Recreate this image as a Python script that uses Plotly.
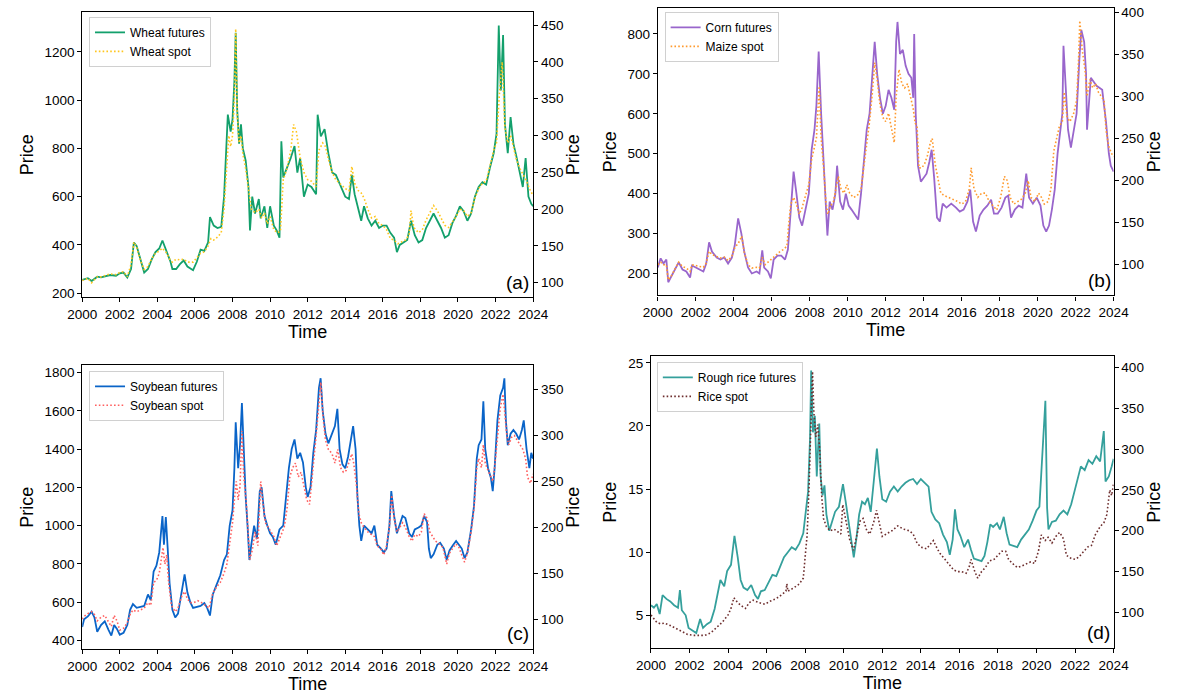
import plotly.graph_objects as go

# ---------------- data (decimal year, value) ----------------
WHEAT_FUT = [(2000.0,255),(2000.3,262),(2000.5,250),(2000.8,268),(2001.0,265),(2001.3,270),(2001.5,275),(2001.8,272),(2002.0,282),(2002.2,285),(2002.4,265),(2002.6,300),(2002.75,410),(2002.9,395),(2003.1,340),(2003.3,285),(2003.5,300),(2003.7,340),(2003.9,370),(2004.1,385),(2004.27,418),(2004.5,370),(2004.7,330),(2004.8,300),(2005.0,300),(2005.2,320),(2005.4,335),(2005.6,310),(2005.9,295),(2006.1,330),(2006.3,380),(2006.5,375),(2006.7,410),(2006.8,515),(2007.0,480),(2007.2,470),(2007.4,475),(2007.55,600),(2007.7,820),(2007.75,940),(2007.9,870),(2008.0,920),(2008.1,1080),(2008.17,1280),(2008.25,960),(2008.35,820),(2008.45,900),(2008.55,800),(2008.7,750),(2008.85,640),(2008.93,460),(2009.05,600),(2009.2,530),(2009.4,590),(2009.5,510),(2009.7,560),(2009.85,470),(2010.0,560),(2010.2,480),(2010.35,460),(2010.5,430),(2010.6,830),(2010.7,680),(2010.9,720),(2011.1,760),(2011.3,810),(2011.45,700),(2011.6,760),(2011.8,600),(2012.0,650),(2012.2,640),(2012.45,610),(2012.53,940),(2012.7,850),(2012.9,880),(2013.1,780),(2013.3,700),(2013.5,690),(2013.8,640),(2014.0,600),(2014.2,590),(2014.35,690),(2014.5,610),(2014.7,545),(2014.85,500),(2015.0,560),(2015.2,510),(2015.4,480),(2015.6,500),(2015.8,470),(2016.0,480),(2016.2,480),(2016.4,450),(2016.6,430),(2016.75,370),(2016.9,400),(2017.1,410),(2017.3,420),(2017.5,500),(2017.7,440),(2017.9,410),(2018.1,420),(2018.3,470),(2018.5,500),(2018.7,530),(2018.9,500),(2019.1,470),(2019.3,430),(2019.5,440),(2019.7,490),(2019.9,520),(2020.1,560),(2020.3,540),(2020.5,500),(2020.7,530),(2020.9,600),(2021.1,640),(2021.3,660),(2021.5,650),(2021.7,720),(2021.9,780),(2022.05,860),(2022.17,1310),(2022.28,1040),(2022.4,1270),(2022.5,900),(2022.65,780),(2022.8,930),(2022.95,820),(2023.1,770),(2023.3,700),(2023.45,640),(2023.6,760),(2023.75,600),(2023.9,570),(2024.0,560)]
WHEAT_SPOT = [(2000.0,103),(2000.3,106),(2000.5,100),(2000.8,108),(2001.0,108),(2001.3,111),(2001.5,112),(2001.8,111),(2002.0,114),(2002.2,115),(2002.4,108),(2002.6,125),(2002.75,155),(2002.9,148),(2003.1,130),(2003.3,118),(2003.5,122),(2003.7,133),(2003.9,140),(2004.1,143),(2004.27,147),(2004.5,140),(2004.7,130),(2004.8,128),(2005.0,132),(2005.2,131),(2005.4,132),(2005.6,128),(2005.9,128),(2006.1,134),(2006.3,140),(2006.5,142),(2006.7,150),(2006.85,160),(2007.0,158),(2007.2,162),(2007.4,168),(2007.55,200),(2007.7,265),(2007.8,300),(2007.9,285),(2008.0,300),(2008.1,350),(2008.17,445),(2008.25,330),(2008.35,290),(2008.45,300),(2008.55,275),(2008.7,255),(2008.85,225),(2009.0,200),(2009.2,195),(2009.4,200),(2009.55,188),(2009.7,195),(2009.85,180),(2010.0,190),(2010.2,172),(2010.4,168),(2010.55,170),(2010.7,240),(2010.9,255),(2011.1,280),(2011.25,315),(2011.4,305),(2011.6,270),(2011.8,250),(2012.0,240),(2012.2,238),(2012.45,230),(2012.6,280),(2012.8,290),(2012.95,285),(2013.1,268),(2013.3,250),(2013.5,240),(2013.8,232),(2014.0,228),(2014.2,225),(2014.35,258),(2014.5,235),(2014.7,225),(2014.85,222),(2015.0,215),(2015.2,200),(2015.4,188),(2015.6,190),(2015.8,180),(2016.0,178),(2016.2,172),(2016.4,160),(2016.6,158),(2016.8,153),(2017.0,155),(2017.2,158),(2017.4,165),(2017.5,198),(2017.65,175),(2017.9,168),(2018.1,172),(2018.3,185),(2018.5,195),(2018.7,205),(2018.9,198),(2019.1,188),(2019.3,178),(2019.5,175),(2019.7,183),(2019.9,190),(2020.1,200),(2020.3,198),(2020.5,190),(2020.7,195),(2020.9,215),(2021.1,228),(2021.3,235),(2021.5,238),(2021.7,258),(2021.9,280),(2022.05,290),(2022.2,355),(2022.35,400),(2022.5,310),(2022.65,290),(2022.8,300),(2022.95,285),(2023.1,268),(2023.3,255),(2023.5,245),(2023.65,238),(2023.8,228),(2024.0,218)]

CORN_FUT = [(2000.0,215),(2000.15,238),(2000.3,225),(2000.45,235),(2000.55,178),(2000.75,195),(2000.9,210),(2001.1,228),(2001.3,210),(2001.5,205),(2001.7,190),(2001.8,220),(2002.0,215),(2002.2,210),(2002.4,205),(2002.55,225),(2002.7,278),(2002.85,255),(2003.1,240),(2003.3,235),(2003.5,240),(2003.7,225),(2003.9,240),(2004.05,270),(2004.23,338),(2004.4,300),(2004.55,255),(2004.75,215),(2004.95,200),(2005.2,205),(2005.35,200),(2005.5,258),(2005.6,215),(2005.8,205),(2005.95,188),(2006.1,235),(2006.3,245),(2006.5,245),(2006.7,235),(2006.85,260),(2006.95,330),(2007.05,390),(2007.15,455),(2007.3,400),(2007.45,340),(2007.6,320),(2007.8,370),(2007.95,400),(2008.1,510),(2008.25,560),(2008.35,620),(2008.47,756),(2008.6,600),(2008.75,450),(2008.85,380),(2008.93,295),(2009.05,380),(2009.2,360),(2009.35,400),(2009.44,470),(2009.6,380),(2009.75,360),(2009.9,400),(2010.05,370),(2010.2,360),(2010.4,345),(2010.55,335),(2010.7,400),(2010.85,480),(2011.0,560),(2011.15,600),(2011.3,690),(2011.42,780),(2011.55,700),(2011.7,640),(2011.85,600),(2012.0,620),(2012.15,660),(2012.3,640),(2012.45,610),(2012.55,780),(2012.62,830),(2012.75,750),(2012.9,760),(2013.05,720),(2013.2,700),(2013.35,690),(2013.45,640),(2013.5,800),(2013.58,600),(2013.7,470),(2013.85,430),(2014.0,440),(2014.15,450),(2014.3,480),(2014.42,510),(2014.55,440),(2014.7,340),(2014.85,330),(2015.0,375),(2015.2,365),(2015.45,375),(2015.7,365),(2015.9,355),(2016.1,360),(2016.3,380),(2016.45,410),(2016.6,330),(2016.75,305),(2016.95,345),(2017.15,360),(2017.35,370),(2017.55,385),(2017.7,350),(2017.9,350),(2018.1,365),(2018.3,390),(2018.45,395),(2018.6,340),(2018.8,360),(2019.0,370),(2019.2,365),(2019.4,450),(2019.55,390),(2019.75,375),(2019.95,390),(2020.15,370),(2020.3,320),(2020.45,305),(2020.6,320),(2020.75,360),(2020.9,410),(2021.05,500),(2021.2,555),(2021.3,600),(2021.36,770),(2021.45,690),(2021.6,560),(2021.75,515),(2021.9,560),(2022.05,600),(2022.2,740),(2022.3,810),(2022.45,780),(2022.55,700),(2022.6,560),(2022.7,640),(2022.8,690),(2022.95,680),(2023.1,670),(2023.25,665),(2023.4,660),(2023.5,620),(2023.6,580),(2023.75,500),(2023.85,470),(2024.0,455)]
MAIZE_SPOT = [(2000.0,100),(2000.15,103),(2000.3,100),(2000.45,100),(2000.55,82),(2000.75,88),(2000.9,95),(2001.1,103),(2001.3,98),(2001.5,96),(2001.7,92),(2001.8,100),(2002.0,99),(2002.2,98),(2002.4,97),(2002.55,102),(2002.7,116),(2002.85,112),(2003.1,110),(2003.3,108),(2003.5,109),(2003.7,105),(2003.9,110),(2004.05,120),(2004.25,126),(2004.42,134),(2004.55,115),(2004.75,100),(2004.95,96),(2005.2,97),(2005.35,96),(2005.5,109),(2005.65,100),(2005.85,104),(2006.0,108),(2006.2,112),(2006.4,115),(2006.6,118),(2006.8,122),(2006.9,150),(2007.0,172),(2007.15,180),(2007.3,172),(2007.45,160),(2007.6,168),(2007.75,180),(2007.95,195),(2008.1,225),(2008.25,240),(2008.35,250),(2008.5,312),(2008.6,250),(2008.75,210),(2008.85,175),(2008.95,160),(2009.1,170),(2009.25,175),(2009.4,195),(2009.5,205),(2009.65,190),(2009.8,185),(2009.95,195),(2010.1,185),(2010.3,180),(2010.5,182),(2010.7,190),(2010.85,215),(2011.0,245),(2011.15,270),(2011.3,305),(2011.42,340),(2011.55,320),(2011.7,290),(2011.85,275),(2012.0,270),(2012.15,280),(2012.3,262),(2012.45,245),(2012.55,300),(2012.7,332),(2012.85,315),(2013.0,310),(2013.15,315),(2013.3,300),(2013.45,285),(2013.55,268),(2013.65,265),(2013.75,215),(2013.9,215),(2014.05,220),(2014.2,230),(2014.35,245),(2014.45,250),(2014.6,220),(2014.75,200),(2014.9,185),(2015.1,182),(2015.3,180),(2015.55,178),(2015.8,175),(2016.0,172),(2016.2,175),(2016.4,190),(2016.5,215),(2016.65,190),(2016.85,180),(2017.05,185),(2017.25,185),(2017.45,175),(2017.65,170),(2017.85,165),(2018.05,180),(2018.25,205),(2018.4,200),(2018.55,180),(2018.75,172),(2018.95,175),(2019.15,178),(2019.35,185),(2019.5,200),(2019.65,180),(2019.85,175),(2020.05,185),(2020.2,180),(2020.35,172),(2020.55,175),(2020.7,190),(2020.85,235),(2021.0,250),(2021.15,265),(2021.3,270),(2021.4,305),(2021.55,275),(2021.7,270),(2021.9,280),(2022.05,295),(2022.15,340),(2022.22,390),(2022.35,355),(2022.5,330),(2022.6,300),(2022.75,320),(2022.9,310),(2023.05,315),(2023.2,305),(2023.35,300),(2023.5,295),(2023.6,260),(2023.75,240),(2023.9,232),(2024.0,228)]

SOY_FUT = [(2000.0,470),(2000.1,510),(2000.3,525),(2000.5,550),(2000.65,520),(2000.8,445),(2001.0,480),(2001.2,500),(2001.4,455),(2001.55,425),(2001.7,480),(2001.85,460),(2002.0,430),(2002.2,440),(2002.4,480),(2002.55,560),(2002.7,590),(2002.9,570),(2003.1,575),(2003.3,580),(2003.5,640),(2003.65,610),(2003.8,760),(2003.95,790),(2004.1,860),(2004.2,960),(2004.27,1050),(2004.35,900),(2004.45,1045),(2004.55,880),(2004.65,700),(2004.8,560),(2004.95,520),(2005.1,540),(2005.25,620),(2005.45,745),(2005.6,650),(2005.75,600),(2005.9,570),(2006.1,575),(2006.3,580),(2006.5,595),(2006.65,570),(2006.8,530),(2006.95,640),(2007.15,690),(2007.35,740),(2007.55,820),(2007.7,850),(2007.85,1000),(2008.0,1080),(2008.1,1300),(2008.17,1540),(2008.3,1300),(2008.4,1420),(2008.5,1640),(2008.6,1350),(2008.7,1150),(2008.8,1000),(2008.9,820),(2009.0,900),(2009.15,1000),(2009.3,930),(2009.45,1180),(2009.55,1200),(2009.7,1050),(2009.85,1000),(2010.0,960),(2010.15,940),(2010.3,900),(2010.5,980),(2010.7,1000),(2010.85,1150),(2011.0,1300),(2011.15,1400),(2011.3,1450),(2011.45,1350),(2011.6,1380),(2011.75,1330),(2011.9,1200),(2012.0,1150),(2012.15,1200),(2012.3,1380),(2012.45,1500),(2012.6,1720),(2012.69,1770),(2012.8,1600),(2012.95,1480),(2013.1,1430),(2013.3,1480),(2013.45,1520),(2013.58,1610),(2013.7,1400),(2013.85,1320),(2014.0,1300),(2014.15,1360),(2014.3,1450),(2014.42,1520),(2014.55,1400),(2014.65,1150),(2014.75,1000),(2014.85,920),(2015.0,1000),(2015.2,980),(2015.4,960),(2015.55,1000),(2015.7,900),(2015.9,880),(2016.05,860),(2016.2,880),(2016.35,1000),(2016.45,1180),(2016.6,1050),(2016.75,960),(2016.9,1000),(2017.05,1050),(2017.2,1040),(2017.4,960),(2017.55,940),(2017.7,980),(2017.9,990),(2018.05,1000),(2018.2,1050),(2018.35,1020),(2018.45,880),(2018.55,830),(2018.7,850),(2018.9,900),(2019.05,910),(2019.25,880),(2019.4,820),(2019.55,870),(2019.75,900),(2019.9,920),(2020.05,900),(2020.2,880),(2020.35,830),(2020.5,860),(2020.7,980),(2020.85,1100),(2021.0,1350),(2021.1,1420),(2021.25,1450),(2021.35,1650),(2021.45,1400),(2021.6,1300),(2021.75,1250),(2021.85,1180),(2021.95,1300),(2022.1,1550),(2022.25,1680),(2022.4,1720),(2022.47,1770),(2022.55,1550),(2022.65,1420),(2022.8,1480),(2022.95,1500),(2023.1,1480),(2023.25,1450),(2023.4,1500),(2023.5,1550),(2023.65,1400),(2023.8,1300),(2023.9,1380),(2024.0,1350)]
SOY_SPOT = [(2000.0,100),(2000.1,103),(2000.3,106),(2000.5,108),(2000.65,105),(2000.8,98),(2001.0,102),(2001.2,104),(2001.4,97),(2001.55,92),(2001.7,104),(2001.85,98),(2002.0,88),(2002.2,90),(2002.4,96),(2002.55,105),(2002.7,110),(2002.9,108),(2003.1,110),(2003.3,112),(2003.5,118),(2003.65,115),(2003.8,140),(2003.95,142),(2004.1,150),(2004.2,165),(2004.3,178),(2004.4,160),(2004.5,170),(2004.6,140),(2004.75,115),(2004.95,108),(2005.1,112),(2005.3,125),(2005.45,130),(2005.6,122),(2005.75,118),(2005.95,118),(2006.15,120),(2006.35,118),(2006.55,115),(2006.75,112),(2006.95,128),(2007.15,135),(2007.35,140),(2007.55,150),(2007.7,160),(2007.85,185),(2008.0,205),(2008.1,230),(2008.2,250),(2008.3,230),(2008.4,245),(2008.5,305),(2008.6,255),(2008.72,230),(2008.82,200),(2008.92,165),(2009.05,175),(2009.2,195),(2009.35,180),(2009.5,250),(2009.6,230),(2009.75,205),(2009.9,200),(2010.05,195),(2010.2,190),(2010.35,180),(2010.55,190),(2010.75,200),(2010.9,220),(2011.05,255),(2011.2,265),(2011.35,270),(2011.5,255),(2011.65,260),(2011.8,245),(2011.95,230),(2012.1,225),(2012.25,255),(2012.45,300),(2012.6,335),(2012.7,358),(2012.82,320),(2012.95,295),(2013.1,285),(2013.3,280),(2013.45,270),(2013.6,285),(2013.75,265),(2013.9,260),(2014.05,262),(2014.2,270),(2014.35,280),(2014.45,270),(2014.6,245),(2014.72,215),(2014.85,205),(2015.0,200),(2015.2,195),(2015.4,192),(2015.55,190),(2015.7,180),(2015.9,176),(2016.05,170),(2016.2,180),(2016.35,200),(2016.47,235),(2016.6,210),(2016.75,195),(2016.9,200),(2017.05,205),(2017.2,200),(2017.4,190),(2017.55,185),(2017.7,192),(2017.9,190),(2018.05,195),(2018.2,215),(2018.35,210),(2018.5,195),(2018.65,190),(2018.8,185),(2019.0,182),(2019.2,178),(2019.4,160),(2019.55,172),(2019.75,178),(2019.9,182),(2020.05,178),(2020.2,170),(2020.35,162),(2020.5,172),(2020.7,195),(2020.85,220),(2021.0,265),(2021.1,275),(2021.25,265),(2021.35,290),(2021.45,270),(2021.6,262),(2021.75,255),(2021.85,250),(2021.95,265),(2022.1,300),(2022.25,330),(2022.4,345),(2022.5,325),(2022.6,300),(2022.7,290),(2022.85,298),(2023.0,300),(2023.15,295),(2023.3,290),(2023.45,285),(2023.6,275),(2023.7,255),(2023.85,248),(2024.0,258)]

RICE_FUT = [(2000.0,5.8),(2000.15,5.6),(2000.3,5.9),(2000.45,5.1),(2000.6,6.6),(2000.8,6.3),(2001.0,6.1),(2001.2,5.8),(2001.4,5.6),(2001.5,7.0),(2001.6,5.4),(2001.8,5.0),(2001.95,4.0),(2002.15,3.8),(2002.35,3.6),(2002.55,4.7),(2002.7,4.0),(2002.9,4.3),(2003.1,4.5),(2003.3,5.5),(2003.45,6.6),(2003.6,7.8),(2003.8,7.3),(2003.95,8.5),(2004.15,9.0),(2004.33,11.3),(2004.5,9.6),(2004.65,7.8),(2004.8,7.2),(2005.0,7.0),(2005.2,7.4),(2005.4,6.6),(2005.55,6.3),(2005.7,6.9),(2005.9,7.0),(2006.1,7.6),(2006.3,8.2),(2006.5,8.1),(2006.7,8.8),(2006.9,9.6),(2007.1,10.0),(2007.3,10.4),(2007.5,10.2),(2007.7,10.7),(2007.9,11.5),(2008.05,13.5),(2008.15,14.8),(2008.25,19.0),(2008.31,24.4),(2008.4,19.5),(2008.5,20.8),(2008.6,16.0),(2008.73,20.2),(2008.8,16.0),(2008.9,14.5),(2009.0,15.3),(2009.1,13.0),(2009.25,11.7),(2009.4,12.5),(2009.55,13.2),(2009.75,13.6),(2009.96,15.4),(2010.1,14.0),(2010.25,12.5),(2010.4,11.0),(2010.52,9.6),(2010.65,11.0),(2010.8,13.0),(2010.95,14.0),(2011.1,13.8),(2011.25,14.3),(2011.4,13.2),(2011.55,15.5),(2011.72,18.2),(2011.85,16.0),(2012.0,14.2),(2012.2,14.0),(2012.4,14.8),(2012.6,15.2),(2012.8,14.8),(2013.0,15.2),(2013.2,15.5),(2013.4,15.7),(2013.6,15.8),(2013.8,15.4),(2014.0,15.8),(2014.2,15.5),(2014.4,15.2),(2014.55,13.2),(2014.75,12.6),(2014.95,12.3),(2015.15,11.4),(2015.35,10.8),(2015.5,9.8),(2015.65,11.0),(2015.77,13.4),(2015.9,11.8),(2016.05,11.3),(2016.25,10.4),(2016.45,11.0),(2016.6,10.2),(2016.75,9.5),(2016.95,9.4),(2017.15,9.3),(2017.3,9.7),(2017.45,10.8),(2017.6,12.2),(2017.75,12.0),(2017.95,12.3),(2018.1,11.8),(2018.3,12.8),(2018.45,11.5),(2018.6,10.6),(2018.8,10.5),(2019.0,10.4),(2019.2,11.0),(2019.4,11.4),(2019.6,11.8),(2019.8,12.5),(2020.0,13.3),(2020.15,13.6),(2020.3,17.5),(2020.46,22.0),(2020.55,13.5),(2020.62,11.8),(2020.8,12.4),(2021.0,12.5),(2021.2,13.0),(2021.4,13.3),(2021.6,13.0),(2021.8,13.8),(2022.0,15.0),(2022.15,16.0),(2022.3,16.8),(2022.5,16.5),(2022.7,17.3),(2022.9,17.0),(2023.1,17.6),(2023.3,17.2),(2023.49,19.6),(2023.58,15.6),(2023.75,16.0),(2023.9,16.8),(2024.0,17.4)]
RICE_SPOT = [(2000.0,97),(2000.15,92),(2000.3,88),(2000.5,86),(2000.7,87),(2001.0,84),(2001.3,80),(2001.6,77),(2001.9,73),(2002.2,72),(2002.5,72),(2002.8,72),(2003.1,75),(2003.4,81),(2003.7,88),(2004.0,97),(2004.15,105),(2004.3,118),(2004.5,112),(2004.7,108),(2004.9,105),(2005.1,112),(2005.3,115),(2005.6,112),(2005.9,110),(2006.2,114),(2006.5,117),(2006.8,122),(2007.0,126),(2007.05,135),(2007.1,126),(2007.4,130),(2007.7,135),(2007.9,142),(2008.0,165),(2008.1,195),(2008.2,255),(2008.3,340),(2008.38,395),(2008.45,345),(2008.55,315),(2008.65,330),(2008.75,300),(2008.85,245),(2008.95,215),(2009.1,205),(2009.3,200),(2009.5,202),(2009.7,198),(2009.85,196),(2009.95,232),(2010.1,215),(2010.3,190),(2010.5,176),(2010.65,190),(2010.85,212),(2011.0,215),(2011.2,200),(2011.35,196),(2011.55,210),(2011.7,225),(2011.85,210),(2012.0,193),(2012.2,196),(2012.5,200),(2012.8,206),(2013.1,202),(2013.4,200),(2013.6,196),(2013.8,185),(2014.0,180),(2014.3,178),(2014.45,182),(2014.65,188),(2014.85,178),(2015.0,172),(2015.25,165),(2015.5,158),(2015.7,152),(2015.9,150),(2016.1,150),(2016.35,148),(2016.5,155),(2016.6,165),(2016.8,150),(2016.95,142),(2017.15,150),(2017.35,155),(2017.55,163),(2017.8,165),(2018.0,170),(2018.2,175),(2018.4,175),(2018.55,165),(2018.75,160),(2019.0,155),(2019.25,157),(2019.5,160),(2019.7,162),(2019.9,160),(2020.1,175),(2020.25,195),(2020.45,188),(2020.6,192),(2020.8,185),(2021.0,193),(2021.2,198),(2021.4,190),(2021.55,170),(2021.8,166),(2022.0,165),(2022.2,168),(2022.45,175),(2022.65,180),(2022.85,182),(2023.05,195),(2023.3,205),(2023.5,210),(2023.65,220),(2023.8,250),(2023.9,243),(2024.0,258)]

LEFT_TICKS = {"a": [200, 400, 600, 800, 1000, 1200], "b": [200, 300, 400, 500, 600, 700, 800],
              "c": [400, 600, 800, 1000, 1200, 1400, 1600, 1800], "d": [5, 10, 15, 20, 25]}
RIGHT_TICKS = {"a": [100, 150, 200, 250, 300, 350, 400, 450], "b": [100, 150, 200, 250, 300, 350, 400],
               "c": [100, 150, 200, 250, 300, 350], "d": [100, 150, 200, 250, 300, 350, 400]}
YEAR_TICKS = list(range(2000, 2025, 2))

# ---------------- layout constants ----------------
W, H = 1190, 697
FONT = "Liberation Sans, Arial, sans-serif"

def px_x(a, b):
    return [a / W, b / W]

def px_y(top, bottom):
    return [1 - bottom / H, 1 - top / H]

panels = [
    dict(key="a", xd=px_x(69, 532), yd=px_y(9, 297), lr=[182, 1366], rr=[80, 468],
         fut=WHEAT_FUT, spot=WHEAT_SPOT, fname="Wheat futures", sname="Wheat spot",
         fcol="#13a06c", scol="#ffc61e", leg=(76, 14), lab=(516, 282)),
    dict(key="b", xd=px_x(660, 1128), yd=px_y(5, 295), lr=[145, 865], rr=[63.5, 405],
         fut=CORN_FUT, spot=MAIZE_SPOT, fname="Corn futures", sname="Maize spot",
         fcol="#9966cc", scol="#ff9a2e", leg=(667, 9), lab=(1113, 280)),
    dict(key="c", xd=px_x(69, 532), yd=px_y(365, 652), lr=[353, 1840], rr=[67, 377],
         fut=SOY_FUT, spot=SOY_SPOT, fname="Soybean futures", sname="Soybean spot",
         fcol="#0a64c8", scol="#ff6060", leg=(76, 371), lab=(516, 636)),
    dict(key="d", xd=px_x(653, 1128), yd=px_y(356, 651), lr=[2.38, 25.55], rr=[56, 414],
         fut=RICE_FUT, spot=RICE_SPOT, fname="Rough rice futures", sname="Rice spot",
         fcol="#35a09c", scol="#6e2e2e", leg=(659, 362), lab=(1112, 635)),
]

fig = go.Figure()
layout = dict(width=W, height=H, margin=dict(l=0, r=0, t=0, b=0),
              paper_bgcolor="white", plot_bgcolor="white",
              font=dict(family=FONT, size=13.5, color="black"), annotations=[])

for i, p in enumerate(panels):
    n = i + 1
    xa = "x" if n == 1 else f"x{n}"
    yl = 2 * n - 1
    yr = 2 * n
    yla = "y" if yl == 1 else f"y{yl}"
    yra = f"y{yr}"
    legname = "legend" if n == 1 else f"legend{n}"

    ft, fv = zip(*p["fut"])
    st, sv = zip(*p["spot"])
    fig.add_trace(go.Scatter(x=ft, y=fv, mode="lines", name=p["fname"], xaxis=xa, yaxis=yla,
                             line=dict(color=p["fcol"], width=1.8), legend=legname))
    fig.add_trace(go.Scatter(x=st, y=sv, mode="lines", name=p["sname"], xaxis=xa, yaxis=yra,
                             line=dict(color=p["scol"], width=1.6, dash="1.6px,2.2px"), legend=legname))

    axis_common = dict(showline=True, linecolor="black", linewidth=1.1, ticks="outside",
                       ticklen=4, tickwidth=1, tickcolor="black", showgrid=False, zeroline=False,
                       tickfont=dict(family=FONT, size=13.5, color="black"))
    layout[f"xaxis{'' if n == 1 else n}"] = dict(
        domain=p["xd"], anchor=yla, range=[2000, 2024], tickvals=YEAR_TICKS, mirror=True,
        title=dict(text="Time", font=dict(family=FONT, size=18), standoff=3), **axis_common)
    layout[f"yaxis{'' if yl == 1 else yl}"] = dict(
        domain=p["yd"], anchor=xa, range=p["lr"], tickvals=LEFT_TICKS[p["key"]],
        title=dict(text="Price", font=dict(family=FONT, size=18), standoff=6), **axis_common)
    layout[f"yaxis{yr}"] = dict(
        domain=p["yd"], anchor=xa, overlaying=yla, side="right", range=p["rr"],
        tickvals=RIGHT_TICKS[p["key"]],
        title=dict(text="Price", font=dict(family=FONT, size=18), standoff=3), **axis_common)
    layout[legname] = dict(x=p["leg"][0] / W, y=1 - p["leg"][1] / H, xanchor="left", yanchor="top",
                           bgcolor="rgba(255,255,255,0.85)", bordercolor="#d0d0d0", borderwidth=1,
                           font=dict(family=FONT, size=12, color="black"),
                           tracegroupgap=0, itemwidth=30)
    layout["annotations"].append(dict(text=f"({p['key']})", x=p["lab"][0] / W, y=1 - p["lab"][1] / H,
                                      xref="paper", yref="paper", showarrow=False,
                                      xanchor="center", yanchor="middle",
                                      font=dict(family=FONT, size=19, color="black")))

fig.update_layout(**layout)
fig.write_html("out.html", config={"displayModeBar": False},
               post_script="document.body.style.margin='0';document.body.style.padding='0';")
